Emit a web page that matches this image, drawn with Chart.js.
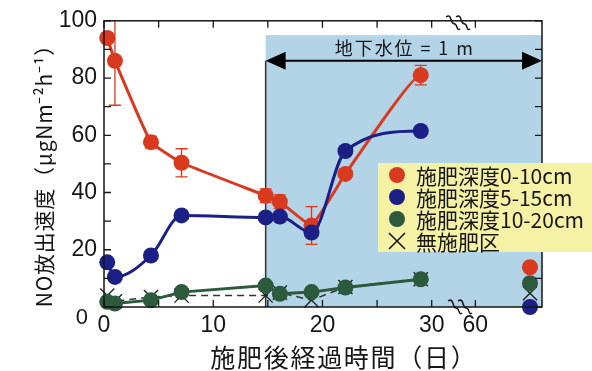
<!DOCTYPE html>
<html>
<head>
<meta charset="utf-8">
<script src="https://cdn.jsdelivr.net/npm/chart.js@4/dist/chart.umd.min.js"></script>
<style>
  html, body { margin: 0; padding: 0; background: #fff; }
  #wrap { width: 592px; height: 371px; }
</style>
</head>
<body>
<div id="wrap"><canvas id="c" width="592" height="371"></canvas></div>
<script>
// Sampling days after fertilization (the last column sits beyond the axis break)
const days = [0.3, 1, 4.3, 7.1, 14.8, 16.1, 19, 22.1, 29, 65];
// NO emission rate (µgN m-2 h-1) by fertilizer depth
const depth0to10 = [94, 86, 57.6, 50.4, 38.9, 36.8, 28.5, 46.5, 81, 13.9];
const depth0to10Err = [0, 15.5, 2.1, 4.9, 2.4, 2.4, 6.6, 0, 3.4, 0];
const depth5to15 = [15.6, 10.5, 18, 32, 31.3, 31.6, 26, 54.5, 61.5, 0];
const depth10to20 = [1.8, 1.2, 2.4, 5.2, 7.5, 4.6, 5.2, 6.8, 9.7, 8.3];
const noFertilizer = [4, 2, 3.5, 4, 4, 5, 2.4, 7, 9.7, 4.8];

const seriesLabels = ['施肥深度0-10cm', '施肥深度5-15cm', '施肥深度10-20cm', '無施肥区'];
const xTickDays = [0, 5, 10, 15, 20, 25, 30, 60];
const xTickLabels = ['0', '', '10', '', '20', '', '30', '60'];
const yMinorStep = 10;
const yLabelStep = 20;
const groundwaterFromDay = 14.8;
const groundwaterText = '地下水位 = 1 m';
const xTitle = '施肥後経過時間（日）';
const yTitle = 'NO放出速度（μgNm⁻²h⁻¹）';

const RED = '#d8391f';
const BLUE = '#1b1f86';
const GREEN = '#2b5a3c';
const SHADE = '#b3d3e7';
const LEGEND_BG = '#f5f2a6';
const INK = '#161616';

// Broken time axis: days after 30 are shifted left so that day 60 sits just past the break
const BREAK_SHIFT = 26;
const axisPos = d => (d <= 30 ? d : d - BREAK_SHIFT);
const X_MAX = axisPos(66.1);
const BREAK_POS = 32.6;

const lastIdx = days.length - 1;
const pts = vals => vals.map((v, i) => ({ x: axisPos(days[i]), y: v }));
const noBridge = color => ({ borderColor: ctx => (ctx.p1DataIndex === lastIdx ? 'rgba(0,0,0,0)' : color) });

function fittedText(ctx, text, cx, cy, width) {
  ctx.letterSpacing = '0px';
  const w = ctx.measureText(text).width;
  const n = [...text].length;
  const sp = (width - w) / n;
  ctx.letterSpacing = sp + 'px';
  ctx.textAlign = 'left';
  ctx.fillText(text, cx - width / 2 + sp / 2, cy);
  ctx.letterSpacing = '0px';
}

// two slanted S strokes marking the gap in the time axis
function drawBreak(ctx, cx, cy) {
  ctx.save();
  ctx.strokeStyle = INK;
  ctx.lineWidth = 1.5;
  for (const dx of [-5, 5]) {
    const x = cx + dx;
    ctx.beginPath();
    ctx.moveTo(x - 7, cy - 6);
    ctx.bezierCurveTo(x - 1, cy - 10, x - 3, cy + 1, x + 1, cy + 1);
    ctx.bezierCurveTo(x + 5, cy + 1, x + 3, cy + 9, x + 7, cy + 6);
    ctx.stroke();
  }
  ctx.restore();
}

const decor = {
  id: 'decor',
  beforeDatasetsDraw(chart) {
    const { ctx, chartArea: a, scales: { x, y } } = chart;
    const gx = x.getPixelForValue(axisPos(groundwaterFromDay));
    ctx.save();
    // groundwater period shading
    ctx.fillStyle = SHADE;
    ctx.fillRect(gx, y.getPixelForValue(95), a.right - gx, y.getPixelForValue(0) - y.getPixelForValue(95));
    // boundary line
    const ay = y.getPixelForValue(86);
    ctx.strokeStyle = '#333';
    ctx.lineWidth = 1.5;
    ctx.beginPath();
    ctx.moveTo(gx, ay);
    ctx.lineTo(gx, a.bottom);
    ctx.stroke();
    // double-headed arrow
    ctx.strokeStyle = '#000';
    ctx.lineWidth = 2;
    ctx.beginPath();
    ctx.moveTo(gx + 10, ay);
    ctx.lineTo(a.right - 10, ay);
    ctx.stroke();
    ctx.fillStyle = '#000';
    ctx.beginPath();
    ctx.moveTo(gx, ay); ctx.lineTo(gx + 20, ay - 9); ctx.lineTo(gx + 20, ay + 9); ctx.closePath();
    ctx.fill();
    ctx.beginPath();
    ctx.moveTo(a.right, ay); ctx.lineTo(a.right - 20, ay - 9); ctx.lineTo(a.right - 20, ay + 9); ctx.closePath();
    ctx.fill();
    // label
    ctx.fillStyle = INK;
    ctx.font = '18px "Noto Sans CJK JP", sans-serif';
    ctx.textBaseline = 'middle';
    fittedText(ctx, groundwaterText, (gx + a.right) / 2, y.getPixelForValue(90.3), 140);
    // error bars for the 0-10 cm series
    ctx.beginPath();
    ctx.rect(a.left, a.top, a.right - a.left, a.bottom - a.top);
    ctx.clip();
    ctx.strokeStyle = RED;
    ctx.lineWidth = 1.3;
    depth0to10.forEach((v, i) => {
      const e = depth0to10Err[i];
      if (!e) return;
      const px = x.getPixelForValue(axisPos(days[i]));
      const top = y.getPixelForValue(v + e), bot = y.getPixelForValue(v - e);
      ctx.beginPath();
      ctx.moveTo(px, top); ctx.lineTo(px, bot);
      ctx.moveTo(px - 6, top); ctx.lineTo(px + 6, top);
      ctx.moveTo(px - 6, bot); ctx.lineTo(px + 6, bot);
      ctx.stroke();
    });
    ctx.restore();
  },
  afterDatasetsDraw(chart) {
    const { ctx, chartArea: a, scales: { x, y } } = chart;
    ctx.save();
    // frame
    ctx.strokeStyle = INK;
    ctx.lineWidth = 1.5;
    ctx.strokeRect(a.left, a.top, a.right - a.left, a.bottom - a.top);
    // inward tick marks
    ctx.lineWidth = 1.3;
    ctx.beginPath();
    for (let v = 0; v <= 100; v += yMinorStep) {
      const py = y.getPixelForValue(v);
      ctx.moveTo(a.left, py); ctx.lineTo(a.left + 7, py);
      ctx.moveTo(a.right, py); ctx.lineTo(a.right - 7, py);
    }
    xTickDays.forEach(d => {
      const px = x.getPixelForValue(axisPos(d));
      ctx.moveTo(px, a.bottom); ctx.lineTo(px, a.bottom - 7);
      ctx.moveTo(px, a.top); ctx.lineTo(px, a.top + 7);
    });
    ctx.stroke();
    // axis break marks
    const bx = x.getPixelForValue(BREAK_POS);
    drawBreak(ctx, bx, a.bottom);
    drawBreak(ctx, bx - 2, a.top + 2);
    ctx.restore();
  },
  afterDraw(chart) {
    const { ctx, scales: { y } } = chart;
    ctx.save();
    ctx.fillStyle = INK;
    // y-axis zero label, set slightly below the corner
    ctx.font = '22px "Liberation Sans", Arial, sans-serif';
    ctx.textAlign = 'right';
    ctx.textBaseline = 'middle';
    ctx.fillText('0', 88, y.getPixelForValue(0) + 11);
    // axis titles
    ctx.font = '25px "Noto Sans CJK JP", sans-serif';
    fittedText(ctx, xTitle, 343, 357, 267);
    ctx.save();
    ctx.translate(44, 171);
    ctx.rotate(-Math.PI / 2);
    ctx.font = '21px "Noto Sans CJK JP", sans-serif';
    fittedText(ctx, yTitle, 0, 0, 273);
    ctx.restore();
    // legend
    ctx.fillStyle = LEGEND_BG;
    ctx.fillRect(378, 163, 220, 89);
    const colors = [RED, BLUE, GREEN, null];
    const rowY = [175, 197, 219, 241];
    ctx.font = '21px "Noto Sans CJK JP", sans-serif';
    ctx.textAlign = 'left';
    seriesLabels.forEach((lab, i) => {
      const cy = rowY[i];
      if (colors[i]) {
        ctx.fillStyle = colors[i];
        ctx.beginPath();
        ctx.arc(397, cy, 8, 0, Math.PI * 2);
        ctx.fill();
      } else {
        ctx.strokeStyle = INK;
        ctx.lineWidth = 1.6;
        ctx.beginPath();
        ctx.moveTo(389, cy - 8); ctx.lineTo(405, cy + 8);
        ctx.moveTo(405, cy - 8); ctx.lineTo(389, cy + 8);
        ctx.stroke();
      }
      ctx.fillStyle = INK;
      ctx.fillText(lab, 416, cy + 1);
    });
    ctx.restore();
  }
};

new Chart(document.getElementById('c'), {
  type: 'line',
  data: {
    datasets: [
      {
        label: seriesLabels[0], data: pts(depth0to10), order: 1,
        borderColor: RED, backgroundColor: RED, borderWidth: 3, tension: 0.1,
        pointRadius: 8, pointBorderWidth: 0, pointBackgroundColor: RED,
        segment: noBridge(RED), clip: false
      },
      {
        label: seriesLabels[1], data: pts(depth5to15), order: 0,
        borderColor: BLUE, backgroundColor: BLUE, borderWidth: 3, cubicInterpolationMode: 'monotone',
        pointRadius: 8, pointBorderWidth: 0, pointBackgroundColor: BLUE,
        segment: noBridge(BLUE), clip: false
      },
      {
        label: seriesLabels[2], data: pts(depth10to20), order: 2,
        borderColor: GREEN, backgroundColor: GREEN, borderWidth: 3, tension: 0,
        pointRadius: 8, pointBorderWidth: 0, pointBackgroundColor: GREEN,
        segment: noBridge(GREEN), clip: false
      },
      {
        label: seriesLabels[3], data: pts(noFertilizer), order: 3,
        borderColor: '#333', borderWidth: 1.5, borderDash: [7, 5], tension: 0,
        pointStyle: 'crossRot', pointRadius: 10, pointBorderWidth: 1.4, pointBorderColor: '#222',
        segment: noBridge('#333'), clip: false
      }
    ]
  },
  options: {
    responsive: false,
    animation: false,
    devicePixelRatio: 1,
    layout: { padding: { left: 0, top: 19, right: 50, bottom: 0 } },
    plugins: { legend: { display: false }, tooltip: { enabled: false } },
    scales: {
      x: {
        type: 'linear', min: 0, max: X_MAX,
        grid: { display: false, drawTicks: false },
        border: { display: false },
        afterBuildTicks: s => { s.ticks = xTickDays.map(d => ({ value: axisPos(d) })); },
        afterFit: s => { s.height = 64; },
        ticks: {
          autoSkip: false, maxRotation: 0, padding: 5, color: INK,
          font: { family: '"Liberation Sans", Arial, sans-serif', size: 23 },
          callback: (val, i) => xTickLabels[i]
        }
      },
      y: {
        min: 0, max: 100,
        grid: { display: false, drawTicks: false },
        border: { display: false },
        afterFit: s => { s.width = 104; },
        ticks: {
          stepSize: yLabelStep, padding: 7, color: INK,
          font: { family: '"Liberation Sans", Arial, sans-serif', size: 23 },
          callback: v => (v === 0 ? '' : String(v))
        }
      }
    }
  },
  plugins: [decor]
});
</script>
</body>
</html>
